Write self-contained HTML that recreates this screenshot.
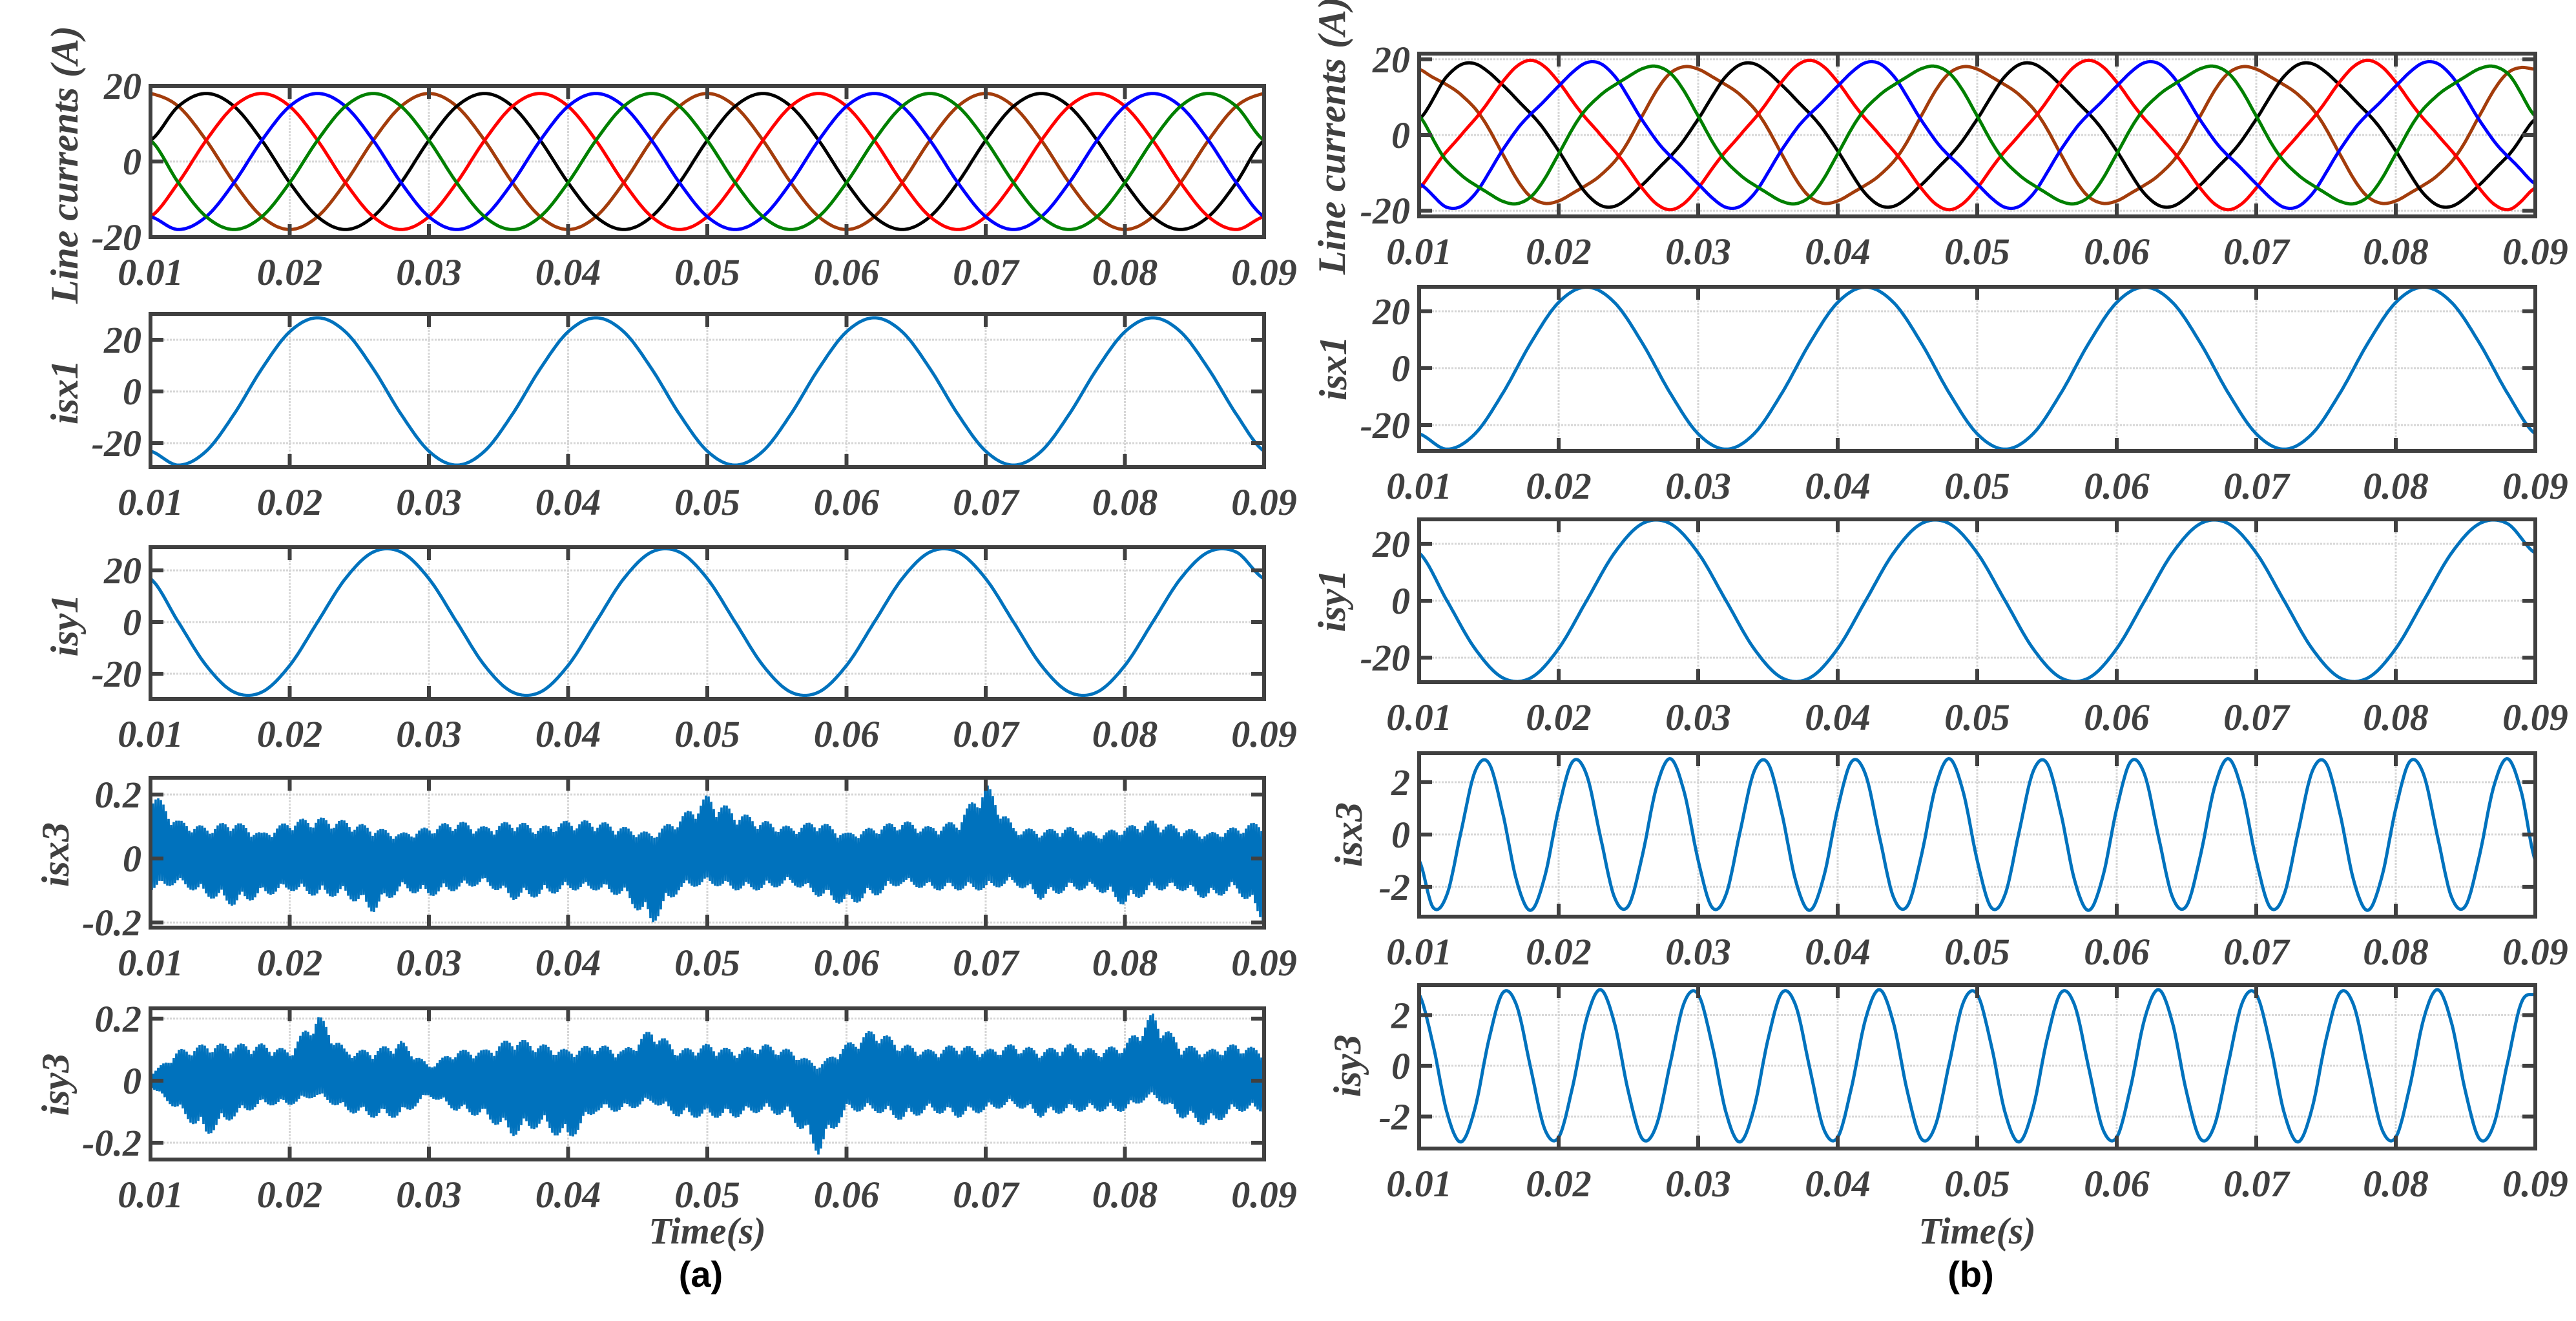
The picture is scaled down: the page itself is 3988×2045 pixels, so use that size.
<!DOCTYPE html>
<html><head><meta charset="utf-8"><style>
html,body{margin:0;padding:0;background:#fff}
svg text{font-family:"Liberation Serif",serif;font-weight:bold;font-style:italic;fill:#404040}
</style></head><body>
<svg id="fig" xmlns="http://www.w3.org/2000/svg" width="3988" height="2040" viewBox="0 0 3988 2040">
<rect width="3988" height="2040" fill="#fff"/>
<g id="root"></g>
</svg>
<script>
// ---- data (time samples) ----
const xTicks = [0.01,0.02,0.03,0.04,0.05,0.06,0.07,0.08,0.09];
const xTickLabels = ["0.01","0.02","0.03","0.04","0.05","0.06","0.07","0.08","0.09"];
// fundamentals sampled every 0.002 s from t=0.01
const phaseBrown = [18,14.6,5.6,-5.6,-14.6,-18,-14.6,-5.6,5.6,14.6,18,14.6,5.6,-5.6,-14.6,-18,-14.6,-5.6,5.6,14.6,18,14.6,5.6,-5.6,-14.6,-18,-14.6,-5.6,5.6,14.6,18,14.6,5.6,-5.6,-14.6,-18,-14.6,-5.6,5.6,14.6,18];
const phaseBlack = [5.6,14.6,18,14.6,5.6,-5.6,-14.6,-18,-14.6,-5.6,5.6,14.6,18,14.6,5.6,-5.6,-14.6,-18,-14.6,-5.6,5.6,14.6,18,14.6,5.6,-5.6,-14.6,-18,-14.6,-5.6,5.6,14.6,18,14.6,5.6,-5.6,-14.6,-18,-14.6,-5.6,5.6];
const phaseRed = [-14.6,-5.6,5.6,14.6,18,14.6,5.6,-5.6,-14.6,-18,-14.6,-5.6,5.6,14.6,18,14.6,5.6,-5.6,-14.6,-18,-14.6,-5.6,5.6,14.6,18,14.6,5.6,-5.6,-14.6,-18,-14.6,-5.6,5.6,14.6,18,14.6,5.6,-5.6,-14.6,-18,-14.6];
const phaseBlue = [-14.6,-18,-14.6,-5.6,5.6,14.6,18,14.6,5.6,-5.6,-14.6,-18,-14.6,-5.6,5.6,14.6,18,14.6,5.6,-5.6,-14.6,-18,-14.6,-5.6,5.6,14.6,18,14.6,5.6,-5.6,-14.6,-18,-14.6,-5.6,5.6,14.6,18,14.6,5.6,-5.6,-14.6];
const phaseGreen = [5.6,-5.6,-14.6,-18,-14.6,-5.6,5.6,14.6,18,14.6,5.6,-5.6,-14.6,-18,-14.6,-5.6,5.6,14.6,18,14.6,5.6,-5.6,-14.6,-18,-14.6,-5.6,5.6,14.6,18,14.6,5.6,-5.6,-14.6,-18,-14.6,-5.6,5.6,14.6,18,14.6,5.6];
const isx1 = [-23.1,-28.5,-23.1,-8.8,8.8,23.1,28.5,23.1,8.8,-8.8,-23.1,-28.5,-23.1,-8.8,8.8,23.1,28.5,23.1,8.8,-8.8,-23.1,-28.5,-23.1,-8.8,8.8,23.1,28.5,23.1,8.8,-8.8,-23.1,-28.5,-23.1,-8.8,8.8,23.1,28.5,23.1,8.8,-8.8,-23.1];
const isy1 = [16.8,0,-16.8,-27.1,-27.1,-16.8,0,16.8,27.1,27.1,16.8,0,-16.8,-27.1,-27.1,-16.8,0,16.8,27.1,27.1,16.8,0,-16.8,-27.1,-27.1,-16.8,0,16.8,27.1,27.1,16.8,0,-16.8,-27.1,-27.1,-16.8,0,16.8,27.1,27.1,16.8];
// right-case 3rd harmonic currents sampled every 0.001 s
const isx3B = [-0.99,-2.79,-2.29,0.10,2.40,2.73,0.80,-1.79,-2.90,-1.62,0.99,2.79,2.29,-0.10,-2.40,-2.73,-0.80,1.79,2.90,1.62,
 -0.99,-2.79,-2.29,0.10,2.40,2.73,0.80,-1.79,-2.90,-1.62,0.99,2.79,2.29,-0.10,-2.40,-2.73,-0.80,1.79,2.90,1.62,
 -0.99,-2.79,-2.29,0.10,2.40,2.73,0.80,-1.79,-2.90,-1.62,0.99,2.79,2.29,-0.10,-2.40,-2.73,-0.80,1.79,2.90,1.62,
 -0.99,-2.79,-2.29,0.10,2.40,2.73,0.80,-1.79,-2.90,-1.62,0.99,2.79,2.29,-0.10,-2.40,-2.73,-0.80,1.79,2.90,1.62,-0.99];
const isy3B = [2.82,0.83,-1.85,-3.00,-1.68,1.03,2.88,2.36,-0.10,-2.49,-2.82,-0.83,1.85,3.00,1.68,-1.03,-2.88,-2.36,0.10,2.49,
 2.82,0.83,-1.85,-3.00,-1.68,1.03,2.88,2.36,-0.10,-2.49,-2.82,-0.83,1.85,3.00,1.68,-1.03,-2.88,-2.36,0.10,2.49,
 2.82,0.83,-1.85,-3.00,-1.68,1.03,2.88,2.36,-0.10,-2.49,-2.82,-0.83,1.85,3.00,1.68,-1.03,-2.88,-2.36,0.10,2.49,
 2.82,0.83,-1.85,-3.00,-1.68,1.03,2.88,2.36,-0.10,-2.49,-2.82,-0.83,1.85,3.00,1.68,-1.03,-2.88,-2.36,0.10,2.49,2.82];
// per-phase harmonic coupling coefficients (brown, black, red, blue, green)
const harmX = [0.6,0,-0.6,0,0.6];
const harmY = [0,-0.5,0,0.6,0];
// left-case residual noise envelopes, every 0.002 s
const isx3AUpper = [0.22,0.12,0.1,0.12,0.08,0.12,0.13,0.12,0.1,0.08,0.1,0.12,0.1,0.12,0.1,0.12,0.12,0.1,0.08,0.13,0.2,0.15,0.12,0.1,0.12,0.08,0.1,0.12,0.1,0.12,0.24,0.1,0.09,0.1,0.08,0.1,0.12,0.1,0.08,0.1,0.12];
const isx3ALower = [-0.1,-0.08,-0.12,-0.15,-0.12,-0.1,-0.12,-0.12,-0.17,-0.1,-0.12,-0.1,-0.08,-0.13,-0.12,-0.1,-0.1,-0.12,-0.21,-0.1,-0.08,-0.1,-0.1,-0.08,-0.12,-0.15,-0.12,-0.08,-0.1,-0.1,-0.1,-0.08,-0.13,-0.1,-0.1,-0.15,-0.1,-0.1,-0.13,-0.1,-0.2];
const isy3AUpper = [0.02,0.1,0.12,0.12,0.12,0.1,0.22,0.1,0.1,0.13,0.05,0.1,0.1,0.14,0.12,0.1,0.12,0.1,0.17,0.1,0.12,0.1,0.12,0.1,0.05,0.12,0.17,0.12,0.1,0.12,0.1,0.12,0.1,0.12,0.1,0.12,0.22,0.12,0.1,0.12,0.1];
const isy3ALower = [-0.02,-0.1,-0.18,-0.12,-0.08,-0.08,-0.05,-0.1,-0.12,-0.12,-0.05,-0.1,-0.12,-0.18,-0.15,-0.2,-0.1,-0.1,-0.07,-0.12,-0.12,-0.12,-0.1,-0.12,-0.24,-0.1,-0.1,-0.13,-0.1,-0.12,-0.1,-0.08,-0.12,-0.1,-0.1,-0.1,-0.05,-0.12,-0.15,-0.1,-0.1];

// ---- rendering ----
const NS = "http://www.w3.org/2000/svg";
const root = document.getElementById("root");
function mk(tag, attrs, parent){ const e=document.createElementNS(NS,tag); for(const k in attrs) e.setAttribute(k,attrs[k]); (parent||root).appendChild(e); return e; }
function cr(arr, t, dt){ const n=arr.length; let u=(t-0.01)/dt; let i=Math.floor(u); if(i<0)i=0; if(i>n-2)i=n-2; const f=u-i;
  const p0=arr[Math.max(i-1,0)],p1=arr[i],p2=arr[i+1],p3=arr[Math.min(i+2,n-1)];
  return 0.5*(2*p1+(-p0+p2)*f+(2*p0-5*p1+4*p2-p3)*f*f+(-p0+3*p1-3*p2+p3)*f*f*f); }
function lin(arr,t,dt){ const n=arr.length; let u=(t-0.01)/dt; let i=Math.floor(u); if(i<0)i=0; if(i>n-2)i=n-2; const f=u-i; return arr[i]*(1-f)+arr[i+1]*f; }

const COLS = [{x0:233,x1:1957,lab:"a"},{x0:2197,x1:3925,lab:"b"}];
const PANELS = [
 [ {top:133,bot:367,ymin:-20,ymax:20,yt:[20,0,-20],ytl:["20","0","-20"],title:"Line currents (A)",tx:100,ty:255,key:"lc"},
   {top:486,bot:723,ymin:-29.25,ymax:30,yt:[20,0,-20],ytl:["20","0","-20"],title:"isx1",tx:100,ty:607,key:"x1"},
   {top:847,bot:1082,ymin:-29.75,ymax:29,yt:[20,0,-20],ytl:["20","0","-20"],title:"isy1",tx:100,ty:968,key:"y1"},
   {top:1204,bot:1436,ymin:-0.216,ymax:0.2525,yt:[0.2,0,-0.2],ytl:["0.2","0","-0.2"],title:"isx3",tx:86,ty:1323,key:"x3"},
   {top:1561,bot:1795,ymin:-0.254,ymax:0.233,yt:[0.2,0,-0.2],ytl:["0.2","0","-0.2"],title:"isy3",tx:86,ty:1679,key:"y3"} ],
 [ {top:83,bot:335,ymin:-21.5,ymax:21.5,yt:[20,0,-20],ytl:["20","0","-20"],title:"Line currents (A)",tx:2062,ty:210,key:"lc"},
   {top:444,bot:698,ymin:-29.1,ymax:28.6,yt:[20,0,-20],ytl:["20","0","-20"],title:"isx1",tx:2064,ty:570,key:"x1"},
   {top:804,bot:1056,ymin:-28.6,ymax:28.6,yt:[20,0,-20],ytl:["20","0","-20"],title:"isy1",tx:2062,ty:930,key:"y1"},
   {top:1166,bot:1419,ymin:-3.14,ymax:3.11,yt:[2,0,-2],ytl:["2","0","-2"],title:"isx3",tx:2088,ty:1292,key:"x3"},
   {top:1525,bot:1778,ymin:-3.26,ymax:3.18,yt:[2,0,-2],ytl:["2","0","-2"],title:"isy3",tx:2086,ty:1650,key:"y3"} ]
];
const PHASES = [phaseBrown,phaseBlack,phaseRed,phaseBlue,phaseGreen];
const PCOL = ["#A33C0B","#000000","#FF0000","#0000FF","#008000"];
const PNAME = ["brown","black","red","blue","green"];
let clipId=0;

COLS.forEach((c,ci)=>{
  PANELS[ci].forEach((p,pi)=>{
    const g = mk("g",{});
    
    
    const X = t => c.x0 + (t-0.01)/0.08*(c.x1-c.x0);
    const Y = v => p.bot - (v-p.ymin)/(p.ymax-p.ymin)*(p.bot-p.top);
    const grid = mk("g",{},g);
    
    
    xTicks.forEach(t=>{ mk("line",{x1:X(t),x2:X(t),y1:p.top,y2:p.bot,stroke:"#d6d6d6","stroke-width":3,"stroke-dasharray":"3 2"},grid); });
    p.yt.forEach(v=>{ mk("line",{x1:c.x0,x2:c.x1,y1:Y(v),y2:Y(v),stroke:"#d6d6d6","stroke-width":3,"stroke-dasharray":"3 2"},grid); });
    const cid="clip"+(clipId++);
    const cp=mk("clipPath",{id:cid},g); mk("rect",{x:c.x0,y:p.top,width:c.x1-c.x0,height:p.bot-p.top},cp);
    const series = mk("g",{"clip-path":"url(#"+cid+")"},g);
    const N=900;
    function curve(fn,color,name,w){
      let d="";
      for(let k=0;k<=N;k++){ const t=0.01+0.08*k/N; d+=(k?"L":"M")+X(t).toFixed(1)+" "+Y(fn(t)).toFixed(1); }
      const e=mk("path",{d:d,fill:"none",stroke:color,"stroke-width":w||5,"stroke-linejoin":"round"},series);
      
      
    }
    if(p.key==="lc"){
      PHASES.forEach((arr,k)=>{
        if(ci===0) curve(t=>cr(arr,t,0.002),PCOL[k],"line-current-"+PNAME[k]);
        else curve(t=>cr(arr,t,0.002)+harmX[k]*cr(isx3B,t,0.001)+harmY[k]*cr(isy3B,t,0.001),PCOL[k],"line-current-"+PNAME[k]);
      });
    } else if(p.key==="x1"){ curve(t=>cr(isx1,t,0.002),"#0072BD","isx1-trace"); }
    else if(p.key==="y1"){ curve(t=>cr(isy1,t,0.002),"#0072BD","isy1-trace"); }
    else if(ci===1){ curve(t=>cr(p.key==="x3"?isx3B:isy3B,t,0.001),"#0072BD",p.key==="x3"?"isx3-trace":"isy3-trace"); }
    else {
      const up = p.key==="x3"?isx3AUpper:isy3AUpper, lo = p.key==="x3"?isx3ALower:isy3ALower;
      let d=""; let j=0;
      for(let px=c.x0; px<=c.x1; px+=2, j++){
        const t=0.01+(px-c.x0)/(c.x1-c.x0)*0.08;
        const m=0.7+0.3*Math.abs(Math.sin(j*1.37));
        const v=(j%2===0)? lin(up,t,0.002)*m : lin(lo,t,0.002)*m;
        d+=(j?"L":"M")+px.toFixed(1)+" "+Y(v).toFixed(1);
      }
      const e=mk("path",{d:d,fill:"none",stroke:"#0072BD","stroke-width":3.6},series);
      
      
    }
    xTicks.forEach(t=>{ mk("line",{x1:X(t),x2:X(t),y1:p.top,y2:p.top+20,stroke:"#404040","stroke-width":6},g); mk("line",{x1:X(t),x2:X(t),y1:p.bot,y2:p.bot-20,stroke:"#404040","stroke-width":6},g); });
    p.yt.forEach(v=>{ mk("line",{x1:c.x0,x2:c.x0+20,y1:Y(v),y2:Y(v),stroke:"#404040","stroke-width":6},g); mk("line",{x1:c.x1,x2:c.x1-20,y1:Y(v),y2:Y(v),stroke:"#404040","stroke-width":6},g); });
    const box=mk("rect",{x:c.x0,y:p.top,width:c.x1-c.x0,height:p.bot-p.top,fill:"none",stroke:"#404040","stroke-width":6},g);
    
    
    xTicks.forEach((t,i)=>{ const tx=mk("text",{x:X(t),y:p.bot+74,"font-size":58,"text-anchor":"middle"},g); tx.textContent=xTickLabels[i];
      
       });
    p.yt.forEach((v,i)=>{ const tx=mk("text",{x:c.x0-14,y:Y(v)+20,"font-size":58,"text-anchor":"end"},g); tx.textContent=p.ytl[i];
      
       });
    const tt=mk("text",{x:0,y:0,"font-size":60,"text-anchor":"middle",transform:"translate("+(p.tx+20)+","+p.ty+") rotate(-90)"},g);
    tt.textContent=p.title;
    
    
  });
  const xt=mk("text",{x:(c.x0+c.x1)/2,y:1925,"font-size":58,"text-anchor":"middle"});
  xt.textContent="Time(s)";
  
  
  const cap=mk("text",{x:(c.x0+c.x1)/2-10,y:1992,"font-size":56,"text-anchor":"middle",style:"font-family:'Liberation Sans',sans-serif;font-style:normal;fill:#000"});
  cap.textContent="("+c.lab+")";
  
  
});
</script>
</body></html>
